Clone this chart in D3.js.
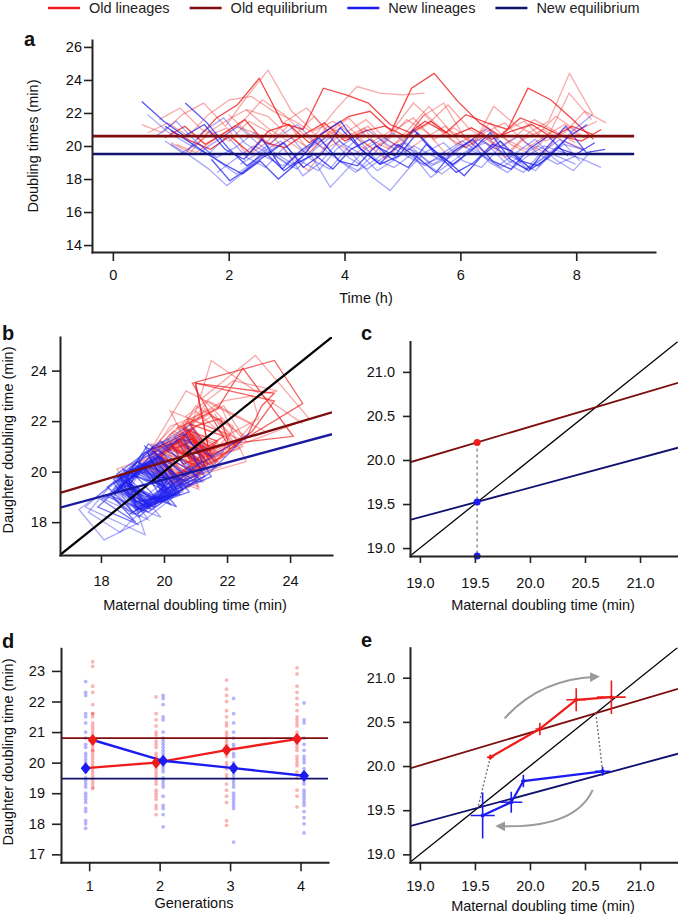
<!DOCTYPE html>
<html><head><meta charset="utf-8">
<script src="https://cdn.jsdelivr.net/npm/d3@7"></script>
<style>
body{margin:0;background:#fff;}
svg text{font-family:"Liberation Sans",Arial,Helvetica,sans-serif;}
</style></head><body>
<svg id="chart" width="678" height="917"></svg>
<script>
// ---------------- DATA ----------------
const legendLabels = ["Old lineages", "Old equilibrium", "New lineages", "New equilibrium"];

// Panel a: lineages (start time in h, successive doubling times in min)
const redStarts = [1.45, 1.0, 0.9, 0.5, 0.6, 1.1, 1.3, 2.0, 0.8, 1.6, 2.3, 1.0];
const redLineages = [
  [20.4, 21.7, 22.5, 24.1, 21.4, 21.0, 23.5, 23.1, 22.6, 21.3, 20.8, 21.5, 20.6, 21.1, 20.4, 20.9, 21.3, 20.5, 21.2, 20.7],
  [20.9, 20.3, 19.8, 20.6, 19.6, 20.9, 21.3, 20.2, 21.0, 21.8, 22.1, 20.9, 23.5, 24.4, 22.7, 21.4, 20.6, 21.7, 21.2, 20.6, 20.3, 21.0],
  [20.5, 21.2, 20.1, 20.8, 21.6, 20.2, 19.9, 20.7, 21.4, 20.3, 20.9, 21.2, 20.6, 21.5, 20.8, 21.9, 21.4, 21.0, 23.5, 22.8, 21.6, 20.4],
  [21.3, 20.8, 21.9, 22.6, 21.2, 22.9, 24.6, 22.1, 20.9, 21.5, 20.6, 19.8, 20.9, 21.7, 20.4, 21.1, 20.2, 22.4, 21.3, 20.6, 21.8, 20.9, 21.5],
  [20.8, 21.4, 20.6, 21.9, 22.8, 23.0, 22.1, 21.5, 20.7, 22.2, 23.6, 23.2, 23.1, 23.2],
  [20.1, 19.6, 20.4, 21.2, 20.8, 19.9, 20.6, 21.8, 20.2, 19.5, 20.3, 21.0, 22.6, 21.4, 20.1, 20.7, 19.8, 20.5, 21.6, 20.9, 20.2],
  [19.8, 20.6, 21.1, 19.4, 20.2, 21.5, 22.3, 20.9, 20.4, 21.2, 19.9, 20.6, 21.3, 22.5, 21.0, 20.3, 19.7, 20.8, 21.5, 24.4, 21.9],
  [21.9, 20.7, 20.1, 21.3, 19.6, 20.8, 21.7, 20.4, 19.8, 21.0, 22.4, 20.9, 20.3, 21.4, 20.1, 19.5, 20.7, 23.2, 21.6],
  [21.6, 22.3, 21.0, 20.5, 21.4, 22.8, 21.9, 20.6, 19.8, 20.5, 21.1, 19.3, 20.2, 21.8, 22.6, 20.4, 19.6, 20.9, 21.5, 20.3, 20.8, 22.1, 21.4],
  [20.7, 21.5, 22.2, 21.8, 20.6, 19.9, 21.2, 20.5, 19.7, 20.3, 21.6, 20.8, 19.4, 20.1, 21.0, 20.4, 19.8, 20.6, 21.3, 20.5],
  [22.2, 21.1, 20.3, 19.5, 20.6, 21.3, 20.1, 19.2, 20.4, 21.9, 20.6, 19.9, 20.8, 21.4, 20.2, 19.6, 21.1, 20.5],
  [20.2, 19.6, 20.9, 20.3, 21.5, 20.8, 19.4, 18.5, 20.1, 20.8, 21.6, 20.4, 19.7, 20.5, 21.2, 19.9, 20.6, 19.3, 20.4, 21.0, 20.3, 19.8]
];
const blueStarts = [0.9, 1.25, 1.7, 0.5, 0.6, 1.0, 0.75, 1.5, 2.2, 0.9, 1.8, 1.15];
const blueLineages = [
  [21.2, 20.4, 19.6, 18.9, 18.3, 19.1, 18.0, 18.9, 19.5, 18.6, 19.8, 20.4, 19.3, 18.7, 20.1, 19.2, 18.2, 19.4, 20.3, 19.1, 18.8, 19.9, 19.5, 20.2],
  [22.6, 21.4, 19.9, 18.8, 19.6, 18.5, 19.3, 20.7, 21.5, 19.8, 18.9, 19.4, 20.8, 19.5, 18.4, 19.0, 20.1, 19.7, 18.6, 19.3, 20.5, 21.3],
  [19.2, 17.9, 18.6, 19.4, 20.2, 18.7, 19.5, 21.1, 19.8, 18.9, 20.1, 19.3, 18.4, 19.7, 20.4, 19.1, 18.6, 19.8, 20.6, 19.4],
  [22.7, 21.5, 20.6, 21.3, 19.8, 19.2, 20.4, 18.6, 19.7, 20.5, 19.1, 18.8, 20.0, 19.4, 21.0, 19.6, 18.9, 19.7, 20.8, 19.2, 18.5, 19.9, 21.2, 19.6, 19.8],
  [21.9, 20.8, 20.1, 19.5, 20.6, 19.3, 18.7, 19.9, 18.2, 19.0, 20.3, 19.6, 18.5, 19.2, 20.0, 19.4, 18.8, 19.7, 20.5, 19.1, 18.6, 19.3, 20.1, 19.8],
  [20.1, 19.4, 18.6, 17.6, 18.4, 19.6, 20.3, 19.1, 18.5, 19.8, 20.6, 19.2, 18.7, 19.5, 18.1, 18.9, 19.7, 20.2, 19.0, 18.4, 19.6, 20.4, 19.1],
  [20.6, 21.5, 20.2, 19.3, 19.9, 20.8, 19.6, 18.9, 19.4, 17.5, 18.6, 19.8, 20.5, 19.7, 18.9, 19.3, 20.1, 19.5, 18.8, 19.6, 20.4, 19.2, 18.5, 19.7],
  [19.6, 20.4, 21.2, 20.1, 19.3, 18.6, 19.8, 20.7, 19.4, 18.1, 17.3, 18.5, 19.6, 20.2, 19.1, 18.7, 19.9, 20.6, 19.5, 18.9, 19.4],
  [18.9, 19.6, 20.5, 21.3, 20.1, 19.2, 18.4, 19.5, 20.8, 19.9, 18.8, 19.3, 20.2, 21.1, 19.7, 18.6, 19.4, 20.3, 19.75],
  [20.3, 19.5, 20.9, 21.7, 20.2, 19.4, 18.8, 19.6, 20.4, 19.1, 18.5, 19.2, 20.1, 19.7, 18.9, 19.5, 20.3, 19.0, 18.4, 19.3, 20.0, 19.6, 19.2, 18.7],
  [18.4, 19.2, 20.0, 19.5, 18.7, 19.9, 20.6, 19.3, 18.6, 19.4, 20.2, 19.0, 18.3, 19.1, 20.4, 19.8, 19.2, 18.5, 19.6, 20.9, 21.9],
  [19.5, 20.2, 19.1, 18.3, 19.0, 19.8, 20.5, 19.2, 18.6, 19.9, 21.0, 20.1, 19.4, 18.8, 19.6, 20.3, 19.5, 18.7, 19.3, 20.0, 19.4, 18.9]
];
const eqLevelsA = [20.6, 19.52];     // old, new equilibrium (panel a)
const eqEndTime = 9.0;

// Linear fits daughter = intercept + slope * maternal
const oldFit = {intercept: 12.977, slope: 0.370};
const newFit = {intercept: 12.946, slope: 0.337};

// Panel d
const generations = [1, 2, 3, 4];
const eqLevelsD = [20.8, 19.48];
const redMeans = [20.74, 20.00, 20.41, 20.77];
const blueMeans = [19.82, 20.06, 19.82, 19.57];
const redLineVals = [19.82, 20.00, 20.41, 20.77];
const blueLineVals = [20.74, 20.06, 19.82, 19.57];
const redDots = [
  [23.3, 23.15, 22.5, 22.3, 21.9, 21.6, 21.6, 21.5, 21.3, 21.2, 21.1, 21.0, 20.9, 20.8, 20.8, 20.7, 20.6, 20.5, 20.4, 20.4, 20.3, 20.2, 20.1, 20.0, 19.9, 19.8, 19.7, 19.6, 19.5, 19.4, 19.3, 19.2, 19.15],
  [22.15, 21.6, 21.4, 21.2, 21.0, 20.9, 20.7, 20.6, 20.5, 20.3, 20.2, 20.1, 20.0, 19.9, 19.8, 19.7, 19.6, 19.5, 19.4, 19.3, 19.1, 19.0, 18.9, 18.8, 18.6, 18.5, 18.3],
  [22.7, 22.4, 22.2, 22.0, 21.7, 21.5, 21.3, 21.2, 21.0, 20.9, 20.8, 20.7, 20.6, 20.5, 20.4, 20.3, 20.2, 20.0, 19.9, 19.8, 19.6, 19.5, 19.3, 19.1, 18.9, 18.7, 18.1, 17.95],
  [23.1, 22.9, 22.5, 22.3, 22.1, 21.9, 21.7, 21.5, 21.4, 21.3, 21.2, 21.0, 20.9, 20.8, 20.7, 20.6, 20.5, 20.4, 20.2, 20.1, 20.0, 19.9, 19.7, 19.5, 19.1, 18.9, 18.55]
];
const blueDots = [
  [22.65, 22.3, 22.2, 21.6, 21.5, 21.3, 21.0, 20.8, 20.6, 20.5, 20.3, 20.2, 20.1, 20.0, 19.9, 19.8, 19.7, 19.5, 19.4, 19.3, 19.2, 19.0, 18.9, 18.8, 18.7, 18.5, 18.4, 18.1, 18.0, 17.85],
  [22.2, 22.1, 21.9, 21.5, 21.4, 21.0, 20.8, 20.7, 20.6, 20.5, 20.4, 20.3, 20.2, 20.1, 20.0, 19.9, 19.8, 19.7, 19.5, 19.4, 19.3, 19.2, 18.9, 18.6, 18.5, 18.3, 17.9],
  [22.1, 21.6, 21.3, 21.0, 20.8, 20.6, 20.5, 20.3, 20.2, 20.0, 19.9, 19.8, 19.7, 19.6, 19.5, 19.4, 19.3, 19.2, 19.0, 18.9, 18.8, 18.7, 18.6, 18.5, 17.4],
  [21.95, 21.4, 21.3, 20.8, 20.6, 20.4, 20.2, 20.1, 20.0, 19.8, 19.6, 19.5, 19.4, 19.3, 19.1, 19.0, 18.9, 18.8, 18.7, 18.6, 18.4, 18.2, 18.0, 17.7]
];

// Panel c
const cMaternal = 19.52;

// Panel e (maternal, daughter, errors)
const redEx = [19.64, 20.09, 20.42, 20.74];
const redEy = [20.10, 20.42, 20.75, 20.78];
const redEerrX = [0.03, 0.04, 0.09, 0.13];
const redEerrY = [0.03, 0.07, 0.13, 0.19];
const blueEx = [20.66, 19.94, 19.83, 19.57];
const blueEy = [19.94, 19.83, 19.59, 19.44];
const blueEerrX = [0.07, 0.02, 0.10, 0.11];
const blueEerrY = [0.05, 0.07, 0.12, 0.26];

// annotation arrows in panel e (data units)
const eArrows = [
  {from: [19.77, 20.54], ctrl: [20.09, 20.98], to: [20.59, 21.01]},
  {from: [20.57, 19.73], ctrl: [20.41, 19.29], to: [19.73, 19.32]}
];

// ---------------- STYLE ----------------
const COL = {red: "#f01c1c", dred: "#7d0d0d", blue: "#1c1cf0", navy: "#10106e", axis: "#222", gray: "#9a9a9a"};
const FS = 14.5;
const svg = d3.select("#chart");

function axes(g, x, y, o) {
  const xa = d3.axisBottom(x).tickValues(o.xt).tickSize(o.xts).tickPadding(o.xtp).tickSizeOuter(0);
  if (o.xf) xa.tickFormat(o.xf);
  const ya = d3.axisLeft(y).tickValues(o.yt).tickSize(o.yts).tickPadding(o.ytp).tickSizeOuter(0);
  if (o.yf) ya.tickFormat(o.yf);
  const gx = g.append("g").attr("transform", `translate(0,${y.range()[0]})`).call(xa);
  const gy = g.append("g").attr("transform", `translate(${x.range()[0]},0)`).call(ya);
  [gx, gy].forEach(a => {
    a.attr("font-size", FS).attr("font-family", "Liberation Sans, Arial, sans-serif");
    a.select(".domain").attr("stroke", COL.axis).attr("stroke-width", 2).attr("stroke-linecap", "square");
    a.selectAll(".tick line").attr("stroke", COL.axis).attr("stroke-width", 1.6);
    a.selectAll(".tick text").attr("fill", "#111");
  });
}
function clip(id, x, y) {
  svg.append("clipPath").attr("id", id).append("rect")
    .attr("x", x.range()[0]).attr("y", y.range()[1])
    .attr("width", x.range()[1] - x.range()[0]).attr("height", y.range()[0] - y.range()[1]);
  return svg.append("g").attr("clip-path", `url(#${id})`);
}
function label(txt, x, y) {
  svg.append("text").attr("x", x).attr("y", y).attr("font-size", 20).attr("font-weight", "bold").attr("fill", "#111").text(txt);
}
function xTitle(txt, x, y) {
  svg.append("text").attr("x", x).attr("y", y).attr("text-anchor", "middle").attr("font-size", FS).attr("fill", "#111").text(txt);
}
function yTitle(txt, x, y) {
  svg.append("text").attr("transform", `translate(${x},${y}) rotate(-90)`).attr("text-anchor", "middle").attr("font-size", FS).attr("fill", "#111").text(txt);
}
function lineagePoints(start, vals) {
  let t = start;
  return vals.map(v => { const p = [t, v]; t += v / 60; return p; });
}
function fitLine(g, fit, x, y, color, w) {
  const d = x.domain();
  g.append("line").attr("x1", x(d[0])).attr("y1", y(fit.intercept + fit.slope * d[0]))
    .attr("x2", x(d[1])).attr("y2", y(fit.intercept + fit.slope * d[1]))
    .attr("stroke", color).attr("stroke-width", w);
}
function diag(g, x, y, w) {
  const d = x.domain();
  g.append("line").attr("x1", x(d[0])).attr("y1", y(d[0])).attr("x2", x(d[1])).attr("y2", y(d[1]))
    .attr("stroke", "#000").attr("stroke-width", w);
}
const fixedPoint = f => f.intercept / (1 - f.slope);

// ---------------- LEGEND ----------------
{
  const cols = [COL.red, COL.dred, COL.blue, COL.navy];
  let cx = 48;
  legendLabels.forEach((t, i) => {
    svg.append("line").attr("x1", cx).attr("x2", cx + 32).attr("y1", 8).attr("y2", 8)
      .attr("stroke", cols[i]).attr("stroke-width", 2.5);
    const tx = svg.append("text").attr("x", cx + 41).attr("y", 13).attr("font-size", FS).attr("fill", "#222").text(t);
    cx = cx + 41 + tx.node().getComputedTextLength() + 20;
  });
}

// ---------------- PANEL A ----------------
{
  const x = d3.scaleLinear([-0.36, 9.36], [92, 655]);
  const y = d3.scaleLinear([13.58, 26.42], [252, 40]);
  const g = clip("clipA", x, y);
  const line = d3.line().x(d => x(d[0])).y(d => y(d[1]));
  redLineages.forEach((vals, i) => {
    g.append("path").attr("d", line(lineagePoints(redStarts[i], vals))).attr("fill", "none")
      .attr("stroke", COL.red).attr("stroke-width", 1.3).attr("stroke-opacity", i < 3 ? 0.8 : 0.38);
  });
  blueLineages.forEach((vals, i) => {
    g.append("path").attr("d", line(lineagePoints(blueStarts[i], vals))).attr("fill", "none")
      .attr("stroke", COL.blue).attr("stroke-width", 1.3).attr("stroke-opacity", i < 4 ? 0.75 : 0.38);
  });
  [COL.dred, COL.navy].forEach((c, i) => {
    g.append("line").attr("x1", x(x.domain()[0])).attr("x2", x(eqEndTime))
      .attr("y1", y(eqLevelsA[i])).attr("y2", y(eqLevelsA[i])).attr("stroke", c).attr("stroke-width", 2.6);
  });
  axes(svg.append("g"), x, y, {xt: [0, 2, 4, 6, 8], xts: 9, xtp: 8.4, yt: [14, 16, 18, 20, 22, 24, 26], yts: 8, ytp: 2});
  xTitle("Time (h)", 366, 303);
  yTitle("Doubling times (min)", 37.5, 146);
  label("a", 24, 46);
}

// ---------------- PANEL B ----------------
{
  const x = d3.scaleLinear([16.7, 25.33], [60, 332]);
  const y = d3.scaleLinear([16.7, 25.33], [555, 337]);
  const g = clip("clipB", x, y);
  const line = d3.line().x(d => x(d[0])).y(d => y(d[1]));
  const pairs = vals => vals.slice(0, -1).map((v, i) => [v, vals[i + 1]]);
  redLineages.forEach((vals, i) => {
    g.append("path").attr("d", line(pairs(vals))).attr("fill", "none")
      .attr("stroke", COL.red).attr("stroke-width", 1.3).attr("stroke-opacity", i < 3 ? 0.7 : 0.38);
  });
  blueLineages.forEach((vals, i) => {
    g.append("path").attr("d", line(pairs(vals))).attr("fill", "none")
      .attr("stroke", COL.blue).attr("stroke-width", 1.3).attr("stroke-opacity", i < 4 ? 0.6 : 0.38);
  });
  diag(g, x, y, 2.2);
  fitLine(g, oldFit, x, y, COL.dred, 2.4);
  fitLine(g, newFit, x, y, "#1a1aa0", 2.4);
  axes(svg.append("g"), x, y, {xt: [18, 20, 22, 24], xts: 8, xtp: 12.7, yt: [18, 20, 22, 24], yts: 8, ytp: 5});
  xTitle("Maternal doubling time (min)", 195, 610);
  yTitle("Daughter doubling time (min)", 13, 440);
  label("b", 2, 340);
}

// ---------------- PANEL C ----------------
{
  const x = d3.scaleLinear([18.91, 21.345], [410, 678]);
  const y = d3.scaleLinear([18.91, 21.345], [556, 341.5]);
  const g = clip("clipC", x, y);
  diag(g, x, y, 1.3);
  fitLine(g, oldFit, x, y, COL.dred, 1.8);
  fitLine(g, newFit, x, y, COL.navy, 1.8);
  const yo = oldFit.intercept + oldFit.slope * cMaternal;
  const yn = newFit.intercept + newFit.slope * cMaternal;
  g.append("line").attr("x1", x(cMaternal)).attr("x2", x(cMaternal)).attr("y1", y(yo)).attr("y2", y(y.domain()[0]))
    .attr("stroke", "#888").attr("stroke-width", 1.4).attr("stroke-dasharray", "3,3");
  svg.append("circle").attr("cx", x(cMaternal)).attr("cy", y(yo)).attr("r", 3.5).attr("fill", COL.red);
  svg.append("circle").attr("cx", x(cMaternal)).attr("cy", y(yn)).attr("r", 3.5).attr("fill", COL.blue);
  svg.append("circle").attr("cx", x(cMaternal)).attr("cy", y(y.domain()[0])).attr("r", 3.5).attr("fill", COL.blue);
  const t = [19, 19.5, 20, 20.5, 21];
  axes(svg.append("g"), x, y, {xt: t, xts: 7, xtp: 14.7, xf: d3.format(".1f"), yt: t, yts: 7, ytp: 8, yf: d3.format(".1f")});
  xTitle("Maternal doubling time (min)", 543, 610);
  label("c", 361, 340);
}

// ---------------- PANEL D ----------------
{
  const x = d3.scaleLinear([0.6, 4.39], [61, 328]);
  const y = d3.scaleLinear([16.74, 23.74], [862.3, 648.3]);
  const g = clip("clipD", x, y);
  const off = 0.05;
  const colX = (gen, which) => gen + (gen === 1 ? (which === "blue" ? -off : off) : (which === "red" ? -off : off));
  generations.forEach((gen, i) => {
    redDots[i].forEach(v => g.append("circle").attr("cx", x(colX(gen, "red"))).attr("cy", y(v)).attr("r", 1.9).attr("fill", COL.red).attr("fill-opacity", 0.32));
    blueDots[i].forEach(v => g.append("circle").attr("cx", x(colX(gen, "blue"))).attr("cy", y(v)).attr("r", 1.9).attr("fill", COL.blue).attr("fill-opacity", 0.32));
  });
  [COL.dred, COL.navy].forEach((c, i) => {
    g.append("line").attr("x1", x.range()[0]).attr("x2", x.range()[1])
      .attr("y1", y(eqLevelsD[i])).attr("y2", y(eqLevelsD[i])).attr("stroke", c).attr("stroke-width", 1.8);
  });
  const line = d3.line().x(d => x(d[0])).y(d => y(d[1]));
  // red line starts at gen-1 blue column, blue line at gen-1 red column
  const redPts = generations.map((gen, i) => [gen === 1 ? colX(gen, "blue") : colX(gen, "red"), redLineVals[i]]);
  const bluePts = generations.map((gen, i) => [gen === 1 ? colX(gen, "red") : colX(gen, "blue"), blueLineVals[i]]);
  g.append("path").attr("d", line(redPts)).attr("fill", "none").attr("stroke", COL.red).attr("stroke-width", 2.4);
  g.append("path").attr("d", line(bluePts)).attr("fill", "none").attr("stroke", COL.blue).attr("stroke-width", 2.4);
  const diamond = (cx, cy) => `M${cx},${cy - 6}L${cx + 5},${cy}L${cx},${cy + 6}L${cx - 5},${cy}Z`;
  generations.forEach((gen, i) => {
    g.append("path").attr("d", diamond(x(colX(gen, "red")), y(redMeans[i]))).attr("fill", COL.red);
    g.append("path").attr("d", diamond(x(colX(gen, "blue")), y(blueMeans[i]))).attr("fill", COL.blue);
  });
  axes(svg.append("g"), x, y, {xt: generations, xts: 9, xtp: 9.4, xf: d3.format("d"), yt: [17, 18, 19, 20, 21, 22, 23], yts: 9, ytp: 7, yf: d3.format("d")});
  xTitle("Generations", 194, 908);
  yTitle("Daughter doubling time (min)", 13, 752);
  label("d", 2, 648);
}

// ---------------- PANEL E ----------------
{
  const x = d3.scaleLinear([18.91, 21.345], [410, 678]);
  const y = d3.scaleLinear([18.91, 21.34], [862.3, 647.7]);
  const g = clip("clipE", x, y);
  diag(g, x, y, 1.3);
  fitLine(g, oldFit, x, y, COL.dred, 1.8);
  fitLine(g, newFit, x, y, COL.navy, 1.8);
  const fo = fixedPoint(oldFit), fn = fixedPoint(newFit);
  // dotted connectors between equilibria and the lineage trajectories
  g.append("line").attr("x1", x(redEx[0])).attr("y1", y(redEy[0])).attr("x2", x(fn)).attr("y2", y(fn))
    .attr("stroke", "#777").attr("stroke-width", 1.4).attr("stroke-dasharray", "2,2");
  g.append("line").attr("x1", x(fo)).attr("y1", y(fo)).attr("x2", x(blueEx[0])).attr("y2", y(blueEy[0]))
    .attr("stroke", "#777").attr("stroke-width", 1.4).attr("stroke-dasharray", "2,2");
  // arrows
  svg.append("defs").append("marker").attr("id", "arr").attr("viewBox", "0 0 10 10").attr("refX", 5).attr("refY", 5)
    .attr("markerWidth", 5).attr("markerHeight", 5).attr("orient", "auto")
    .append("path").attr("d", "M0,0L10,5L0,10Z").attr("fill", COL.gray);
  eArrows.forEach(a => {
    const p = d3.path();
    p.moveTo(x(a.from[0]), y(a.from[1]));
    p.quadraticCurveTo(x(a.ctrl[0]), y(a.ctrl[1]), x(a.to[0]), y(a.to[1]));
    g.append("path").attr("d", p.toString()).attr("fill", "none").attr("stroke", COL.gray)
      .attr("stroke-width", 2).attr("marker-end", "url(#arr)");
  });
  const line = d3.line().x(d => x(d[0])).y(d => y(d[1]));
  const series = [
    {xs: redEx, ys: redEy, ex: redEerrX, ey: redEerrY, c: COL.red},
    {xs: blueEx, ys: blueEy, ex: blueEerrX, ey: blueEerrY, c: COL.blue}
  ];
  series.forEach(s => {
    g.append("path").attr("d", line(s.xs.map((v, i) => [v, s.ys[i]]))).attr("fill", "none")
      .attr("stroke", s.c).attr("stroke-width", 2.2);
    s.xs.forEach((v, i) => {
      g.append("line").attr("x1", x(v - s.ex[i])).attr("x2", x(v + s.ex[i])).attr("y1", y(s.ys[i])).attr("y2", y(s.ys[i]))
        .attr("stroke", s.c).attr("stroke-width", 1.6);
      g.append("line").attr("x1", x(v)).attr("x2", x(v)).attr("y1", y(s.ys[i] - s.ey[i])).attr("y2", y(s.ys[i] + s.ey[i]))
        .attr("stroke", s.c).attr("stroke-width", 1.6);
      g.append("circle").attr("cx", x(v)).attr("cy", y(s.ys[i])).attr("r", 2).attr("fill", s.c);
    });
  });
  const t = [19, 19.5, 20, 20.5, 21];
  axes(svg.append("g"), x, y, {xt: t, xts: 8, xtp: 10.4, xf: d3.format(".1f"), yt: t, yts: 7, ytp: 8, yf: d3.format(".1f")});
  xTitle("Maternal doubling time (min)", 543, 911);
  label("e", 361, 647);
}
</script>
</body></html>
